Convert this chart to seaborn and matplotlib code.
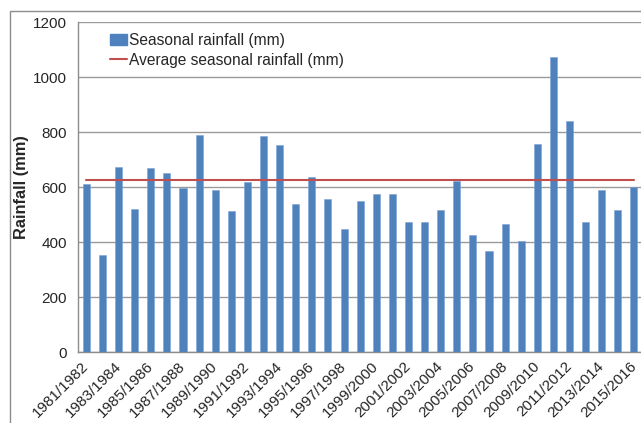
import matplotlib
matplotlib.use("Agg")
import matplotlib.pyplot as plt
import seaborn as sns
import pandas as pd
from matplotlib.patches import Rectangle
from matplotlib.lines import Line2D
from matplotlib.patches import Patch

seasons = [f"{y}/{y+1}" for y in range(1981, 2016)]
rainfall = [610, 354, 675, 522, 668, 650, 596, 791, 591, 512,
            617, 787, 752, 540, 636, 556, 447, 551, 576, 575,
            473, 473, 517, 624, 427, 367, 467, 405, 758, 1073,
            841, 473, 588, 518, 602]
average_rainfall = 626
y_ticks = [0, 200, 400, 600, 800, 1000, 1200]

df = pd.DataFrame({"season": seasons, "rainfall": rainfall,
                   "average": [average_rainfall] * len(seasons)})

sns.set_theme(style="white")
plt.rcParams['font.family'] = ['Liberation Sans', 'DejaVu Sans']

W, H = 641, 423
fig = plt.figure(figsize=(W / 100, H / 100), dpi=100)
fig.patches.append(Rectangle((10 / W, -0.1), 1.2, (H - 11) / H + 0.1,
                             transform=fig.transFigure, fill=False,
                             edgecolor="#8c8c8c", linewidth=1.0))

ax = fig.add_axes([78.3 / W, (H - 352.3) / H, (W - 78.3 + 1) / W, (352.3 - 22) / H])

bar_color = "#4F81BD"
line_color = "#C0504D"
sns.barplot(data=df, x="season", y="rainfall", color=bar_color, width=0.44,
            saturation=1, ax=ax, edgecolor="#7ea3d1", linewidth=0.4, zorder=3)
ax.plot(range(len(seasons)), df["average"], color=line_color, linewidth=1.5, zorder=4)

ax.set_xlim(-0.5, len(seasons) - 0.5)
ax.set_ylim(0, 1200)
ax.set_yticks(y_ticks)
ax.set_yticklabels([str(v) for v in y_ticks], fontsize=11)
ax.yaxis.grid(True, color="#9a9a9a", linewidth=1.0, zorder=0)
ax.set_axisbelow(True)

major = list(range(0, len(seasons), 2))
ax.set_xticks([i - 0.3 for i in major])
ax.set_xticklabels([seasons[i] for i in major], rotation=45, ha="right",
                   rotation_mode="anchor", fontsize=11)
ax.set_xticks([i - 0.5 for i in range(len(seasons) + 1)], minor=True)
ax.tick_params(axis="x", which="major", length=0, pad=5)
ax.tick_params(axis="x", which="minor", length=4, color="#8c8c8c", width=1, direction="out")
ax.tick_params(axis="y", length=5, color="#8c8c8c", width=1, direction="out", pad=3)
ax.set_xlabel("")
ax.set_ylabel("Rainfall (mm)", fontsize=11.8, fontweight="bold", labelpad=3)

for s in ["top", "right"]:
    ax.spines[s].set_visible(False)
for s in ["left", "bottom"]:
    ax.spines[s].set_color("#8c8c8c")
    ax.spines[s].set_linewidth(1.0)

handles = [Patch(facecolor=bar_color, edgecolor=bar_color),
           Line2D([0], [0], color=line_color, linewidth=1.5)]
leg = ax.legend(handles, ["Seasonal rainfall (mm)", "Average seasonal rainfall (mm)"],
                loc="upper left", bbox_to_anchor=(0.045, 0.985), frameon=False,
                fontsize=11.2, handlelength=1.1, handletextpad=0.15,
                labelspacing=0.3, borderaxespad=0)

fig.savefig("out.png", dpi=100)
